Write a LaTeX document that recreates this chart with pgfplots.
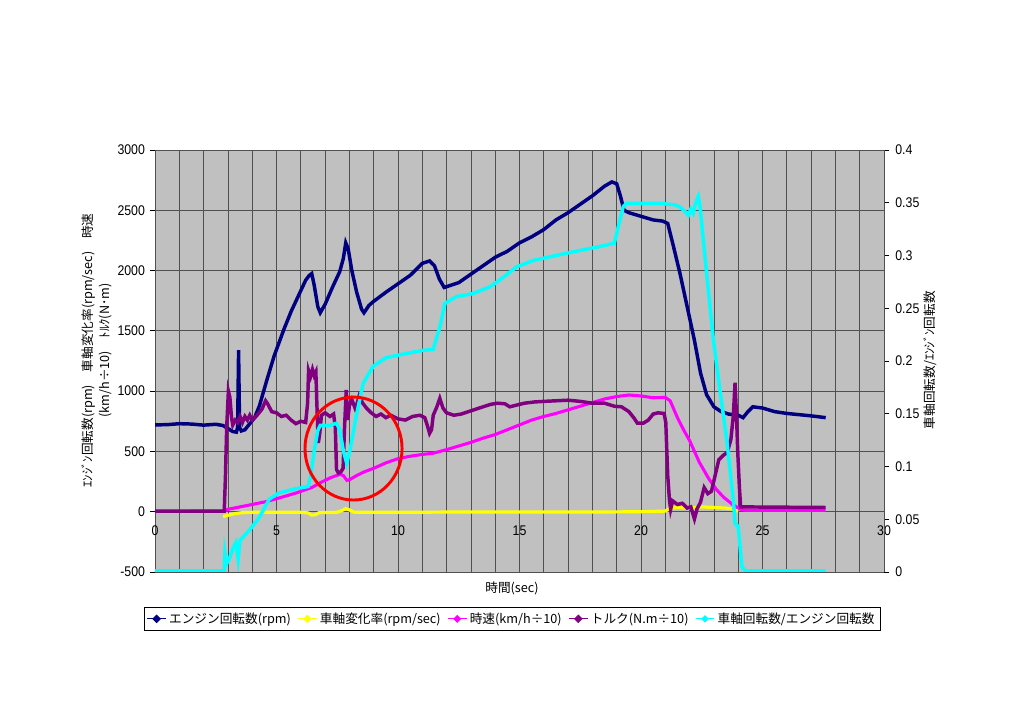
\documentclass[border=0pt]{standalone}
\usepackage{pgfplots}
\pgfplotsset{compat=1.18}
\usepackage{fontspec}
\setmainfont{Noto Sans CJK JP}
\newfontfamily\tickfont{Liberation Sans}[FakeStretch=0.88]
\definecolor{navyc}{HTML}{000080}
\definecolor{purpc}{HTML}{800080}
\definecolor{magc}{HTML}{FF00FF}
\definecolor{yelc}{HTML}{FFFF00}
\definecolor{cyac}{HTML}{00FFFF}
\definecolor{bgc}{HTML}{C0C0C0}
\definecolor{gridc}{HTML}{505050}
\pgfplotsset{
  common/.style={
    at={(116.25pt,114pt)}, anchor=south west,
    width=546.75pt, height=316.5pt, scale only axis,
    xmin=0, xmax=30,
  },
  legend image code/.code={
    \draw[#1, line width=0.8pt] (0pt,0pt) -- (14pt,0pt);
    \fill[#1] (7pt,0pt) circle (1.4pt);
  },
}
\begin{document}
\begin{tikzpicture}
\useasboundingbox (0,0) rectangle (768pt,543pt);
\begin{axis}[common,
  ymin=-500, ymax=3000,
  axis background/.style={fill=bgc},
  axis line style={gridc, line width=0.6pt},
  xtick={0,5,...,30}, minor xtick={0,1,...,30},
  xticklabels={0,5,10,15,20,25,30},
  ytick={-500,0,500,1000,1500,2000,2500,3000},
  yticklabels={-500,0,500,1000,1500,2000,2500,3000},
  grid=both,
  major grid style={gridc, line width=0.6pt},
  minor grid style={gridc, line width=0.6pt},
  xtick style={draw=none}, minor tick style={draw=none},
  ytick pos=left, tick align=outside, major tick length=4pt,
  ytick style={black, line width=0.6pt},
  xticklabel style={font=\tickfont\fontsize{10.5}{12}\selectfont, yshift=42pt},
  yticklabel style={font=\tickfont\fontsize{10.5}{12}\selectfont},
  xlabel={時間(sec)},
  xlabel style={at={(axis description cs:0.4897,-0.038)}, anchor=center, font=\fontsize{9.5}{11}\selectfont},
  ylabel={\begin{tabular}{@{}c@{}}ｴﾝｼﾞﾝ回転数(rpm)　車軸変化率(rpm/sec)　時速\\(km/h÷10)　ﾄﾙｸ(N･m)\end{tabular}},
  ylabel style={at={(axis description cs:-0.0785,0.525)}, anchor=center, font=\fontsize{9.5}{12.5}\selectfont},
  legend columns=5,
  legend style={at={(0.4897,-0.111)}, anchor=center, draw=black, fill=white,
    font=\fontsize{9.5}{11}\selectfont, inner xsep=2pt, inner ysep=2pt,
    /tikz/every even column/.append style={column sep=3pt}},
  legend cell align=left,
]
% engine rpm
\addplot[navyc, line width=2.6pt] coordinates {
(0,720) (0.5,722) (1.0,730) (1.5,727) (2.0,718) (2.5,725) (2.8,715) (3.0,690)
(3.2,665) (3.35,660) (3.40,700) (3.44,1340) (3.48,700) (3.55,670) (3.7,680)
(3.9,730) (4.1,780) (4.3,880) (4.6,1090) (4.9,1290) (5.3,1510) (5.6,1660)
(5.9,1790) (6.2,1920) (6.35,1960) (6.45,1975) (6.55,1880) (6.7,1700) (6.8,1650)
(7.0,1720) (7.3,1860) (7.6,1990) (7.75,2100) (7.85,2230) (7.95,2180) (8.1,2000)
(8.3,1820) (8.5,1680) (8.6,1650) (8.8,1710) (9.0,1745) (9.5,1820) (10.0,1890)
(10.5,1960) (11.0,2060) (11.3,2080) (11.5,2040) (11.7,1930) (11.9,1860)
(12.2,1880) (12.5,1900) (13.0,1970) (13.5,2040) (14.0,2110) (14.5,2160)
(15.0,2230) (15.5,2280) (16.0,2340) (16.5,2420) (17.0,2480) (17.5,2550)
(18.0,2620) (18.5,2700) (18.8,2735) (19.0,2720) (19.15,2620) (19.3,2500)
(19.5,2480) (20.0,2450) (20.5,2420) (20.9,2410) (21.1,2390) (21.3,2230)
(21.6,1980) (21.9,1700) (22.2,1420) (22.45,1150) (22.7,970) (23.0,870)
(23.3,830) (23.6,810) (24.0,800) (24.2,780) (24.4,830) (24.6,870) (25.0,860)
(25.5,830) (26.0,815) (26.5,805) (27.0,795) (27.6,780)
};
\addlegendentry{エンジン回転数(rpm)}
% axle change rate
\addplot[yelc, line width=2.4pt] coordinates {
(2.8,-40) (3.0,-30) (3.3,-15) (3.6,-8) (4.0,-5) (5.0,-5) (6.0,-5) (6.3,-10)
(6.45,-28) (6.6,-25) (6.75,-8) (7.5,-5) (7.7,10) (7.85,25) (8.0,15) (8.2,-5)
(10.0,-5) (12.0,-3) (15.0,-3) (18.0,-3) (20.0,0) (21.0,5) (21.2,30) (21.5,35)
(22.0,30) (22.5,40) (23.0,35) (23.5,30) (23.8,20) (24.0,5)
};
\addlegendentry{車軸変化率(rpm/sec)}
% speed
\addplot[magc, line width=2.3pt] coordinates {
(0,2) (2.8,5) (3.0,20) (3.5,40) (4.0,60) (4.6,85) (5.3,125) (5.8,155) (6.3,190)
(6.45,200) (6.8,240) (7.2,280) (7.6,310) (7.75,300) (7.9,260) (8.0,265)
(8.3,300) (8.6,330) (9.0,360) (9.5,405) (10.0,440) (10.5,460) (11.0,475)
(11.45,485) (12.0,515) (12.5,545) (13.0,575) (13.5,610) (14.0,640) (14.5,680)
(15.0,720) (15.5,760) (16.0,790) (16.5,815) (17.0,845) (17.5,875) (18.0,905)
(18.5,935) (19.0,955) (19.5,968) (20.0,960) (20.5,945) (21.0,948) (21.2,920)
(21.5,780) (21.75,680) (22.0,590) (22.4,410) (22.8,270) (23.1,185) (23.4,120)
(23.8,55) (24.1,20) (24.3,12) (27.6,12)
};
\addlegendentry{時速(km/h÷10)}
% torque
\addplot[purpc, line width=2.6pt] coordinates {
(0,5) (2.85,5) (2.9,300) (2.95,700) (3.02,1000) (3.08,950) (3.15,780) (3.2,720)
(3.3,760) (3.4,740) (3.5,790) (3.6,740) (3.7,790) (3.8,760) (3.9,800) (4.0,760)
(4.2,800) (4.4,850) (4.55,920) (4.65,890) (4.8,830) (5.0,820) (5.2,790)
(5.4,800) (5.6,760) (5.8,730) (6.0,750) (6.2,740) (6.28,900) (6.32,1170)
(6.4,1120) (6.48,1180) (6.55,1130) (6.62,1160) (6.66,900) (6.72,570) (6.78,650)
(6.85,800) (7.0,820) (7.2,790) (7.35,810) (7.42,700) (7.47,350) (7.55,320)
(7.65,330) (7.74,360) (7.8,700) (7.87,1010) (7.93,760) (8.0,880) (8.1,930)
(8.25,850) (8.4,960) (8.55,900) (8.7,860) (8.9,820) (9.1,790) (9.3,810)
(9.5,780) (9.7,800) (10.0,770) (10.3,760) (10.6,790) (10.9,800) (11.1,780)
(11.2,720) (11.3,650) (11.38,680) (11.45,800) (11.6,870) (11.72,940)
(11.85,860) (12.0,820) (12.3,800) (12.6,810) (12.9,830) (13.2,850) (13.5,870)
(13.8,890) (14.1,900) (14.4,895) (14.6,870) (14.8,880) (15.2,900) (15.6,910)
(16.0,915) (16.5,920) (17.0,925) (17.5,915) (18.0,900) (18.5,900) (18.9,875)
(19.2,870) (19.5,830) (19.7,780) (19.85,735) (20.1,735) (20.3,760) (20.5,810)
(20.7,820) (20.95,815) (21.02,740) (21.1,300) (21.17,100) (21.22,20) (21.3,90)
(21.5,60) (21.7,70) (21.9,30) (22.05,40) (22.2,-60) (22.3,20) (22.45,80)
(22.6,200) (22.75,150) (22.9,170) (23.05,300) (23.2,430) (23.4,470) (23.55,490)
(23.7,600) (23.8,800) (23.87,1070) (23.93,800) (23.98,500) (24.05,200)
(24.1,40) (27.6,35)
};
\addlegendentry{トルク(N.m÷10)}
\addlegendimage{cyac, line width=2pt}
\addlegendentry{車軸回転数/エンジン回転数}
\end{axis}
\begin{axis}[common,
  ymin=0, ymax=0.4,
  axis x line=none, axis y line*=right,
  axis line style={gridc, line width=0.6pt},
  ytick={0,0.05,0.1,0.15,0.2,0.25,0.3,0.35,0.4},
  yticklabels={0,0.05,0.1,0.15,0.2,0.25,0.3,0.35,0.4},
  tick align=outside, major tick length=4pt,
  ytick style={black, line width=0.6pt},
  yticklabel style={font=\tickfont\fontsize{10.5}{12}\selectfont, xshift=1pt},
  ylabel={車軸回転数/ｴﾝｼﾞﾝ回転数},
  ylabel style={at={(axis description cs:1.064,0.502)}, anchor=center, font=\fontsize{9.5}{11}\selectfont},
]
\addplot[cyac, line width=2.6pt] coordinates {
(0,0.001) (2.85,0.001) (2.88,0.018) (2.95,0.008) (3.05,0.012) (3.2,0.022)
(3.33,0.028) (3.42,0.012) (3.5,0.030) (3.9,0.040) (4.3,0.052) (4.7,0.069)
(5.1,0.075) (5.8,0.079) (6.3,0.081) (6.4,0.090) (6.55,0.115) (6.7,0.134)
(6.8,0.139) (7.2,0.139) (7.47,0.141) (7.6,0.135) (7.75,0.115) (7.89,0.103)
(8.03,0.116) (8.3,0.150) (8.57,0.179) (8.98,0.195) (9.5,0.203) (10.1,0.206)
(11.0,0.210) (11.45,0.211) (11.73,0.233) (11.93,0.2545) (12.4,0.261)
(13.1,0.264) (13.8,0.2705) (14.2,0.277) (14.9,0.2895) (15.6,0.2955)
(16.9,0.302) (18.3,0.3085) (18.9,0.3116) (19.27,0.3463) (19.4,0.3495)
(20.8,0.3495) (21.4,0.348) (21.6,0.346) (21.8,0.342) (21.95,0.338)
(22.05,0.344) (22.15,0.340) (22.25,0.350) (22.36,0.356) (22.43,0.346)
(22.7,0.283) (22.98,0.220) (23.25,0.172) (23.53,0.125) (23.8,0.068)
(23.87,0.046) (24.0,0.043) (24.15,0.005) (24.3,0.001) (27.6,0.001)
};
\draw[red, line width=2.2pt] (axis cs:8.17,0.117) ellipse [x radius=36.4pt, y radius=38.6pt];
\end{axis}
\end{tikzpicture}
\end{document}
